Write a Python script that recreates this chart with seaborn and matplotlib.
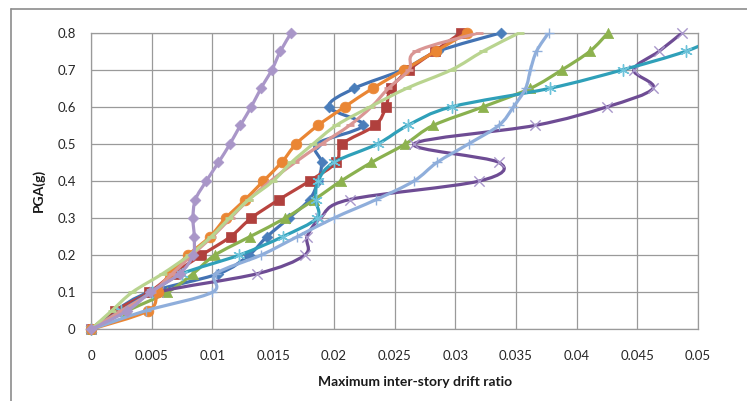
import numpy as np
import matplotlib
matplotlib.use("Agg")
import matplotlib.pyplot as plt
from matplotlib.path import Path
from matplotlib.patches import PathPatch
from matplotlib.lines import Line2D
import seaborn as sns

# ---------------- data ----------------
pga = [0, 0.05, 0.1, 0.15, 0.2, 0.25, 0.3, 0.35, 0.4, 0.45, 0.5, 0.55, 0.6, 0.65, 0.7, 0.75, 0.8]

s_blue = [0, 0.0020, 0.0048, 0.0105, 0.0130, 0.0145, 0.0163, 0.0180, 0.0187, 0.0190, 0.0186, 0.0224, 0.0196, 0.0217, 0.0257, 0.0286, 0.0338]
s_red = [0, 0.0020, 0.0048, 0.0068, 0.0091, 0.0115, 0.0132, 0.0155, 0.0180, 0.0202, 0.0207, 0.0234, 0.0243, 0.0247, 0.0262, 0.0283, 0.0305]
s_green = [0, 0.0030, 0.0063, 0.0084, 0.0102, 0.0131, 0.0160, 0.0184, 0.0206, 0.0231, 0.0259, 0.0282, 0.0323, 0.0362, 0.0388, 0.0411, 0.0426]
s_purple = [0, 0.0025, 0.0055, 0.0137, 0.0176, 0.0178, 0.0189, 0.0213, 0.0320, 0.0336, 0.0266, 0.0366, 0.0425, 0.0463, 0.0447, 0.0468, 0.0487]
s_teal = [0, 0.0025, 0.0050, 0.0075, 0.0122, 0.0158, 0.0186, 0.0185, 0.0187, 0.0200, 0.0236, 0.0261, 0.0297, 0.0378, 0.0438, 0.0490, 0.0525]
s_orange = [0, 0.0047, 0.0055, 0.0065, 0.0080, 0.0098, 0.0111, 0.0127, 0.0142, 0.0157, 0.0169, 0.0187, 0.0209, 0.0232, 0.0258, 0.0284, 0.0310]
s_lightblue = [0, 0.0045, 0.0100, 0.0103, 0.0140, 0.0170, 0.0200, 0.0235, 0.0266, 0.0285, 0.0311, 0.0336, 0.0348, 0.0358, 0.0362, 0.0367, 0.0377]
s_pink = [0, 0.0025, 0.0050, 0.0067, 0.0083, 0.0100, 0.0115, 0.0130, 0.0148, 0.0168, 0.0190, 0.0213, 0.0231, 0.0245, 0.0262, 0.0268, 0.0320]
s_lightgreen = [0, 0.0017, 0.0034, 0.0059, 0.0081, 0.0099, 0.0114, 0.0130, 0.0150, 0.0165, 0.0183, 0.0202, 0.0230, 0.0260, 0.0297, 0.0323, 0.0353]
s_lavender = [0, 0.0030, 0.0049, 0.0073, 0.0084, 0.0085, 0.0084, 0.0086, 0.0095, 0.0105, 0.01145, 0.0123, 0.0132, 0.0140, 0.0149, 0.0156, 0.0165]

x_ticks = [0, 0.005, 0.01, 0.015, 0.02, 0.025, 0.03, 0.035, 0.04, 0.045, 0.05]
x_tick_labels = ["0", "0.005", "0.01", "0.015", "0.02", "0.025", "0.03", "0.035", "0.04", "0.045", "0.05"]
y_ticks = [0, 0.1, 0.2, 0.3, 0.4, 0.5, 0.6, 0.7, 0.8]
y_tick_labels = ["0", "0.1", "0.2", "0.3", "0.4", "0.5", "0.6", "0.7", "0.8"]
x_label = "Maximum inter-story drift ratio"
y_label = "PGA(g)"

ASTERISK = (6, 2, 0)

# (values, line colour, marker colour, marker, size, marker linewidth)
series = [
    (s_blue, "#4373B3", "#4A7EBB", "D", 30, 0.5),
    (s_red, "#B9443F", "#B0403D", "s", 55, 0.5),
    (s_green, "#8AB14F", "#8DB24E", "^", 55, 0.5),
    (s_purple, "#6E4C94", "#A896CA", "x", 55, 1.0),
    (s_teal, "#2FA0B9", "#6EC3DA", ASTERISK, 70, 1.0),
    (s_orange, "#EA8634", "#EA8634", "o", 60, 0.5),
    (s_lightblue, "#8FAEDB", "#8FAEDB", "+", 55, 1.0),
    (s_pink, "#DA9694", "#DA9694", "_", 40, 2.0),
    (s_lightgreen, "#B9D48F", "#B9D48F", "_", 40, 2.0),
    (s_lavender, "#A996C8", "#A996C8", "D", 30, 0.5),
]

# ---------------- figure ----------------
sns.set_theme(style="white")
plt.rcParams["font.family"] = ["Lato", "DejaVu Sans"]

W, H = 747, 401
fig = plt.figure(figsize=(W / 100, H / 100), dpi=100)
fig.patch.set_facecolor("white")
ax = fig.add_axes([91 / W, 1 - 329.3 / H, (698 - 91) / W, (329.3 - 32.7) / H])
ax.set_facecolor("white")

# chart-area border (top and left visible)
fig.add_artist(Line2D([11 / W, 1.0], [1 - 9.3 / H, 1 - 9.3 / H], transform=fig.transFigure, color="#8C8C8C", lw=1.2))
fig.add_artist(Line2D([11 / W, 11 / W], [0.0, 1 - 9.3 / H], transform=fig.transFigure, color="#8C8C8C", lw=1.2))


def smooth_path(xs, ys):
    pts = np.column_stack([xs, ys]).astype(float)
    n = len(pts)
    verts = [pts[0]]
    codes = [Path.MOVETO]
    for i in range(n - 1):
        p0 = pts[i - 1] if i > 0 else pts[i]
        p1 = pts[i]
        p2 = pts[i + 1]
        p3 = pts[i + 2] if i + 2 < n else pts[i + 1]
        c1 = p1 + (p2 - p0) / 6.0
        c2 = p2 - (p3 - p1) / 6.0
        verts += [c1, c2, p2]
        codes += [Path.CURVE4] * 3
    return Path(verts, codes)


for z, (vals, lc, mc, mk, sz, mlw) in enumerate(series):
    patch = PathPatch(smooth_path(vals, pga), facecolor="none", edgecolor=lc,
                      lw=2.3, zorder=3 + z * 0.1, capstyle="round", joinstyle="round")
    ax.add_patch(patch)
    vx = [v for v in vals if v <= 0.05]
    vy = [p for v, p in zip(vals, pga) if v <= 0.05]
    if mk in ("x", "+", "_", ASTERISK):
        sns.scatterplot(x=vx, y=vy, marker=mk, s=sz, color=mc, linewidth=mlw,
                        ax=ax, zorder=3 + z * 0.1 + 0.05, clip_on=False, legend=False)
    else:
        sns.scatterplot(x=vx, y=vy, marker=mk, s=sz, color=mc, edgecolor=mc, linewidth=mlw,
                        ax=ax, zorder=3 + z * 0.1 + 0.05, clip_on=False, legend=False)

ax.set_xlim(0, 0.05)
ax.set_ylim(0, 0.8)
ax.set_xticks(x_ticks)
ax.set_xticklabels(x_tick_labels)
ax.set_yticks(y_ticks)
ax.set_yticklabels(y_tick_labels)
ax.grid(True, color="#9A9A9A", lw=0.9)
ax.set_axisbelow(True)
for sp in ax.spines.values():
    sp.set_visible(True)
    sp.set_color("#9A9A9A")
    sp.set_linewidth(0.9)
ax.tick_params(axis="both", which="major", direction="out", length=4, width=0.9,
               color="#8C8C8C", labelsize=9.5, labelcolor="#262626")
ax.tick_params(axis="x", pad=11)
ax.tick_params(axis="y", pad=7)
ax.set_xlabel("")
ax.set_ylabel("")

fig.text(415 / W, 1 - 382 / H, x_label, ha="center", va="center", fontsize=10, fontweight="bold", color="#1A1A1A")
fig.text(38.5 / W, 1 - 190 / H, y_label, ha="center", va="center", rotation=90, fontsize=10, fontweight="bold", color="#1A1A1A")

fig.savefig("out.png", dpi=100, facecolor="white")
